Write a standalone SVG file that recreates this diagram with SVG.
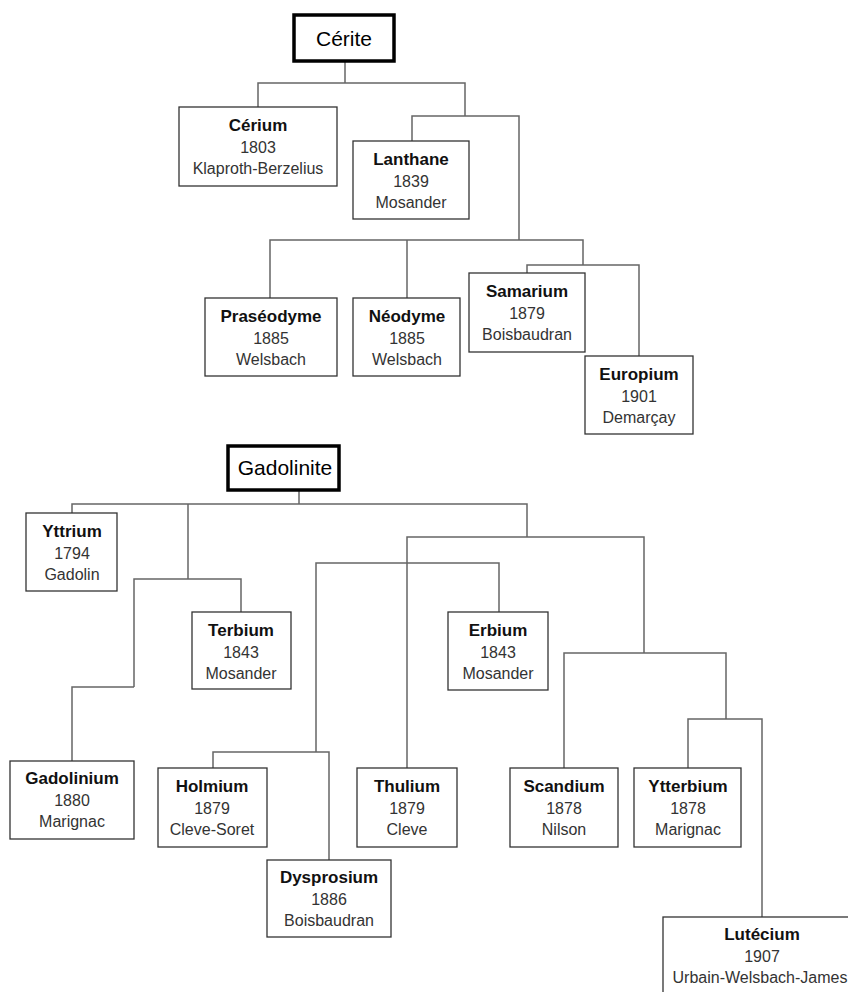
<svg xmlns="http://www.w3.org/2000/svg" width="848" height="992" viewBox="0 0 848 992">
<style>
.bg{fill:#fff}
.box{fill:#fff;stroke:#333;stroke-width:1.3}
.tbox{fill:#fff;stroke:#000;stroke-width:3.5}
.c{fill:none;stroke:#666;stroke-width:1.5}
text{font-family:"Liberation Sans",Arial,sans-serif;text-anchor:middle;fill:#222}
.n{font-size:17px;font-weight:bold;fill:#111}
.y,.w{font-size:16px;fill:#333}
.t{font-size:21px;fill:#000}
</style>
<rect class="bg" x="0" y="0" width="848" height="992"/>
<g id="connectors">
<path class="c" d="M345 61V83"/>
<path class="c" d="M258 107V83H465V116"/>
<path class="c" d="M412 141V116H519V240"/>
<path class="c" d="M270 298V240H583V265"/>
<path class="c" d="M407 298V240"/>
<path class="c" d="M527 273V265H639V356"/>
<path class="c" d="M299 490V504"/>
<path class="c" d="M72 513V504H527V537"/>
<path class="c" d="M188 504V579"/>
<path class="c" d="M134 687V579H241V612"/>
<path class="c" d="M72 761V687H134"/>
<path class="c" d="M407 768V537H644V653"/>
<path class="c" d="M316 752V563H499V612"/>
<path class="c" d="M213 768V752H329V860"/>
<path class="c" d="M564 768V653H726V719"/>
<path class="c" d="M688 768V719H762V917"/>
</g>
<g id="cerite"><rect class="tbox" x="294" y="15" width="100" height="46"/><text class="t" x="344" y="46">Cérite</text></g>
<g id="cerium"><rect class="box" x="179" y="107" width="158" height="79"/><text class="n" x="258" y="131">Cérium</text><text class="y" x="258" y="153">1803</text><text class="w" x="258" y="174">Klaproth-Berzelius</text></g>
<g id="lanthane"><rect class="box" x="353" y="141" width="116" height="78"/><text class="n" x="411" y="165">Lanthane</text><text class="y" x="411" y="187">1839</text><text class="w" x="411" y="208">Mosander</text></g>
<g id="praseodyme"><rect class="box" x="205" y="298" width="132" height="78"/><text class="n" x="271" y="322">Praséodyme</text><text class="y" x="271" y="344">1885</text><text class="w" x="271" y="365">Welsbach</text></g>
<g id="neodyme"><rect class="box" x="353" y="298" width="107" height="78"/><text class="n" x="407" y="322">Néodyme</text><text class="y" x="407" y="344">1885</text><text class="w" x="407" y="365">Welsbach</text></g>
<g id="samarium"><rect class="box" x="469" y="273" width="116" height="79"/><text class="n" x="527" y="297">Samarium</text><text class="y" x="527" y="319">1879</text><text class="w" x="527" y="340">Boisbaudran</text></g>
<g id="europium"><rect class="box" x="585" y="356" width="108" height="78"/><text class="n" x="639" y="380">Europium</text><text class="y" x="639" y="402">1901</text><text class="w" x="639" y="423">Demarçay</text></g>
<g id="gadolinite"><rect class="tbox" x="228" y="446" width="111" height="44"/><text class="t" x="285" y="475">Gadolinite</text></g>
<g id="yttrium"><rect class="box" x="26" y="513" width="91" height="78"/><text class="n" x="72" y="537">Yttrium</text><text class="y" x="72" y="559">1794</text><text class="w" x="72" y="580">Gadolin</text></g>
<g id="terbium"><rect class="box" x="192" y="612" width="99" height="77"/><text class="n" x="241" y="636">Terbium</text><text class="y" x="241" y="658">1843</text><text class="w" x="241" y="679">Mosander</text></g>
<g id="erbium"><rect class="box" x="448" y="612" width="100" height="78"/><text class="n" x="498" y="636">Erbium</text><text class="y" x="498" y="658">1843</text><text class="w" x="498" y="679">Mosander</text></g>
<g id="gadolinium"><rect class="box" x="10" y="761" width="124" height="78"/><text class="n" x="72" y="784">Gadolinium</text><text class="y" x="72" y="806">1880</text><text class="w" x="72" y="827">Marignac</text></g>
<g id="holmium"><rect class="box" x="158" y="768" width="109" height="79"/><text class="n" x="212" y="792">Holmium</text><text class="y" x="212" y="814">1879</text><text class="w" x="212" y="835">Cleve-Soret</text></g>
<g id="thulium"><rect class="box" x="357" y="768" width="100" height="79"/><text class="n" x="407" y="792">Thulium</text><text class="y" x="407" y="814">1879</text><text class="w" x="407" y="835">Cleve</text></g>
<g id="scandium"><rect class="box" x="510" y="768" width="108" height="79"/><text class="n" x="564" y="792">Scandium</text><text class="y" x="564" y="814">1878</text><text class="w" x="564" y="835">Nilson</text></g>
<g id="ytterbium"><rect class="box" x="634" y="768" width="107" height="79"/><text class="n" x="688" y="792">Ytterbium</text><text class="y" x="688" y="814">1878</text><text class="w" x="688" y="835">Marignac</text></g>
<g id="dysprosium"><rect class="box" x="267" y="860" width="124" height="77"/><text class="n" x="329" y="883">Dysprosium</text><text class="y" x="329" y="905">1886</text><text class="w" x="329" y="926">Boisbaudran</text></g>
<g id="lutecium"><rect class="box" x="663" y="917" width="200" height="90"/><text class="n" x="762" y="940">Lutécium</text><text class="y" x="762" y="962">1907</text><text class="w" x="760" y="983">Urbain-Welsbach-James</text></g>
</svg>
